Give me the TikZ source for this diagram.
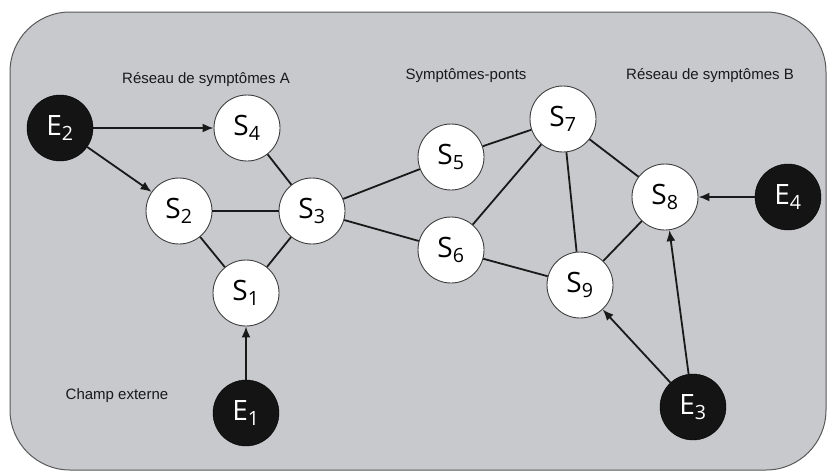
\documentclass[tikz,border=0pt]{standalone}
\usepackage{fontspec}
\setmainfont{Liberation Sans}
\newfontfamily\nodefont{Open Sans}
\usetikzlibrary{arrows.meta}
\definecolor{bggray}{RGB}{200,201,205}
\begin{document}
\begin{tikzpicture}[x=1pt,y=-1pt,
  sym/.style={circle,draw=black!75,line width=0.9pt,fill=white,minimum size=66pt,inner sep=0pt,font=\nodefont\fontsize{28}{30}\selectfont},
  ext/.style={circle,draw=black,fill=black!92,text=white,minimum size=66pt,inner sep=0pt,font=\nodefont\fontsize{28}{30}\selectfont},
  lnk/.style={line width=1.8pt,black!90},
  arr/.style={line width=1.8pt,black!90,-{Latex[length=11pt,width=9pt]}},
  lab/.style={font=\fontsize{15}{17}\selectfont,text=black!90}]
\useasboundingbox (0,0) rectangle (828,472);
\fill[white] (0,0) rectangle (828,472);
\draw[fill=bggray,draw=black!65,line width=1pt,rounded corners=60pt] (10,12) rectangle (826,470);

\node[lab] (la) at (206,80) {Réseau de symptômes A};
\node[lab] (lp) at (466,76) {Symptômes-ponts};
\node[lab] (lb) at (710,76) {Réseau de symptômes B};
\node[lab] (lc) at (117,396) {Champ externe};

\node[ext] (E2) at (60,128) {E\textsubscript{2}};
\node[sym] (S4) at (247,128) {S\textsubscript{4}};
\node[sym] (S2) at (179,211) {S\textsubscript{2}};
\node[sym] (S3) at (312,211) {S\textsubscript{3}};
\node[sym] (S1) at (246,293) {S\textsubscript{1}};
\node[ext] (E1) at (246,413) {E\textsubscript{1}};
\node[sym] (S5) at (451,157) {S\textsubscript{5}};
\node[sym] (S6) at (451,250) {S\textsubscript{6}};
\node[sym] (S7) at (563,119) {S\textsubscript{7}};
\node[sym] (S8) at (665,197) {S\textsubscript{8}};
\node[sym] (S9) at (580,285) {S\textsubscript{9}};
\node[ext] (E4) at (788,197) {E\textsubscript{4}};
\node[ext] (E3) at (693,407) {E\textsubscript{3}};

\draw[arr] (E2) -- (S4);
\draw[arr] (E2) -- (S2);
\draw[lnk] (S4) -- (S3);
\draw[lnk] (S2) -- (S3);
\draw[lnk] (S2) -- (S1);
\draw[lnk] (S3) -- (S1);
\draw[arr] (E1) -- (S1);
\draw[lnk] (S3) -- (S5);
\draw[lnk] (S3) -- (S6);
\draw[lnk] (S5) -- (S7);
\draw[lnk] (S6) -- (S7);
\draw[lnk] (S7) -- (S9);
\draw[lnk] (S7) -- (S8);
\draw[lnk] (S6) -- (S9);
\draw[lnk] (S9) -- (S8);
\draw[arr] (E4) -- (S8);
\draw[arr] (E3) -- (S9);
\draw[arr] (E3) -- (S8);
\end{tikzpicture}
\end{document}
